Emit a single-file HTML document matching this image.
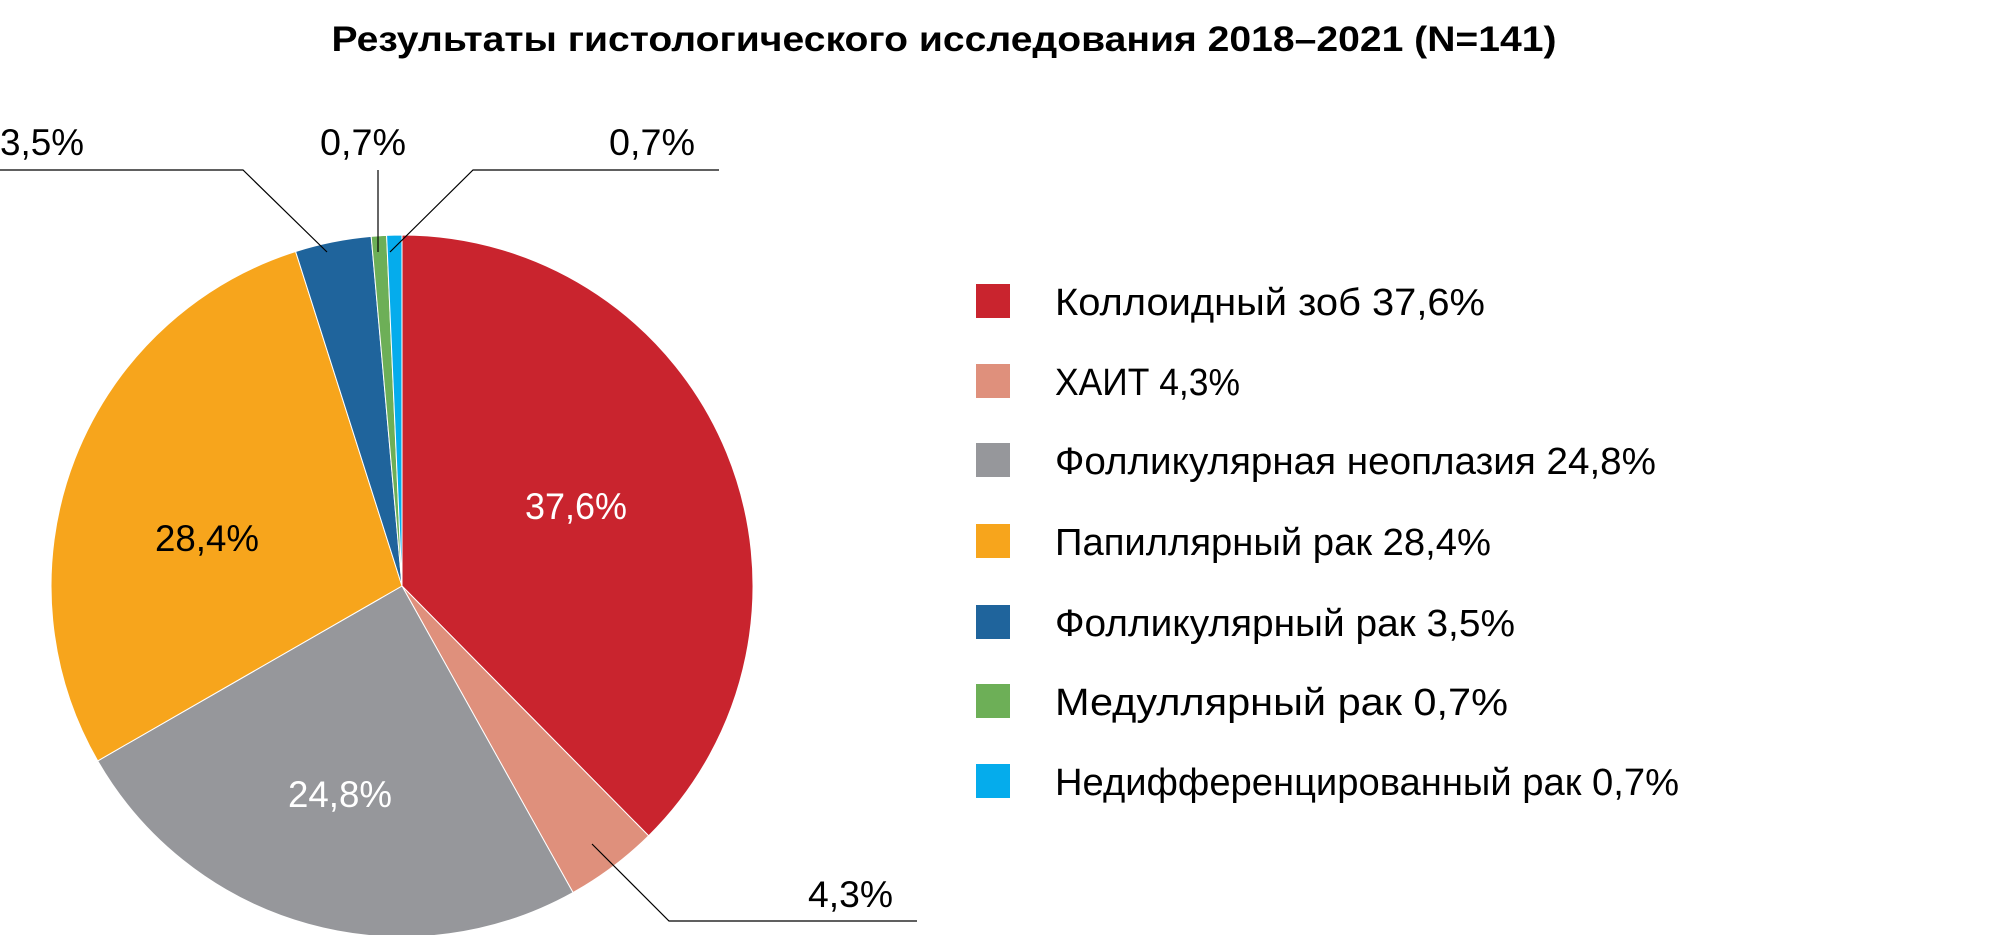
<!DOCTYPE html>
<html><head><meta charset="utf-8"><style>
html,body{margin:0;padding:0;background:#fff;}
svg{display:block;}
text{font-family:"Liberation Sans","DejaVu Sans",sans-serif;}
</style></head><body>
<svg width="2005" height="935" viewBox="0 0 2005 935" xmlns="http://www.w3.org/2000/svg">
<text x="944" y="51" text-anchor="middle" font-size="35" font-weight="bold" textLength="1225" lengthAdjust="spacingAndGlyphs">Результаты гистологического исследования 2018–2021 (N=141)</text>
<g stroke="#fff" stroke-width="1">
<path d="M402,586 L402,235 A351,351 0 0 1 648.6,835.8 Z" fill="#c9242e"/>
<path d="M402,586 L648.6,835.8 A351,351 0 0 1 573.0,892.5 Z" fill="#df907c"/>
<path d="M402,586 L573.0,892.5 A351,351 0 0 1 97.7,760.9 Z" fill="#96979b"/>
<path d="M402,586 L97.7,760.9 A351,351 0 0 1 295.6,251.5 Z" fill="#f7a51c"/>
<path d="M402,586 L295.6,251.5 A351,351 0 0 1 371.2,236.4 Z" fill="#1f649c"/>
<path d="M402,586 L371.2,236.4 A351,351 0 0 1 386.6,235.4 Z" fill="#6daf57"/>
<path d="M402,586 L386.6,235.4 A351,351 0 0 1 402,235 Z" fill="#05acec"/>
</g>
<g font-size="37">
<text x="576" y="519" text-anchor="middle" fill="#fff" textLength="102" lengthAdjust="spacingAndGlyphs">37,6%</text>
<text x="340" y="807" text-anchor="middle" fill="#fff" textLength="104" lengthAdjust="spacingAndGlyphs">24,8%</text>
<text x="207" y="551" text-anchor="middle" fill="#000" textLength="104" lengthAdjust="spacingAndGlyphs">28,4%</text>
<text x="0" y="155" textLength="84" lengthAdjust="spacingAndGlyphs">3,5%</text>
<text x="363" y="155" text-anchor="middle" textLength="86" lengthAdjust="spacingAndGlyphs">0,7%</text>
<text x="609" y="155" textLength="86" lengthAdjust="spacingAndGlyphs">0,7%</text>
<text x="808" y="907" textLength="85" lengthAdjust="spacingAndGlyphs">4,3%</text>
</g>
<g stroke="#000" stroke-width="1.2" fill="none">
<polyline points="0,170 243,170 327,252"/>
<polyline points="378,170 378,252"/>
<polyline points="719,170 473,170 390,252"/>
<polyline points="592,844 669,921 917,921"/>
</g>
<g font-size="38">
<rect x="976" y="284" width="34" height="34" fill="#c9242e"/>
<text x="1055" y="315" textLength="430" lengthAdjust="spacingAndGlyphs">Коллоидный зоб 37,6%</text>
<rect x="976" y="364" width="34" height="34" fill="#df907c"/>
<text x="1055" y="395" textLength="185" lengthAdjust="spacingAndGlyphs">ХАИТ 4,3%</text>
<rect x="976" y="443" width="34" height="34" fill="#96979b"/>
<text x="1055" y="474" textLength="601" lengthAdjust="spacingAndGlyphs">Фолликулярная неоплазия 24,8%</text>
<rect x="976" y="524" width="34" height="34" fill="#f7a51c"/>
<text x="1055" y="555" textLength="436" lengthAdjust="spacingAndGlyphs">Папиллярный рак 28,4%</text>
<rect x="976" y="605" width="34" height="34" fill="#1f649c"/>
<text x="1055" y="636" textLength="460" lengthAdjust="spacingAndGlyphs">Фолликулярный рак 3,5%</text>
<rect x="976" y="684" width="34" height="34" fill="#6daf57"/>
<text x="1055" y="715" textLength="453" lengthAdjust="spacingAndGlyphs">Медуллярный рак 0,7%</text>
<rect x="976" y="764" width="34" height="34" fill="#05acec"/>
<text x="1055" y="795" textLength="624" lengthAdjust="spacingAndGlyphs">Недифференцированный рак 0,7%</text>
</g>
</svg>
</body></html>
